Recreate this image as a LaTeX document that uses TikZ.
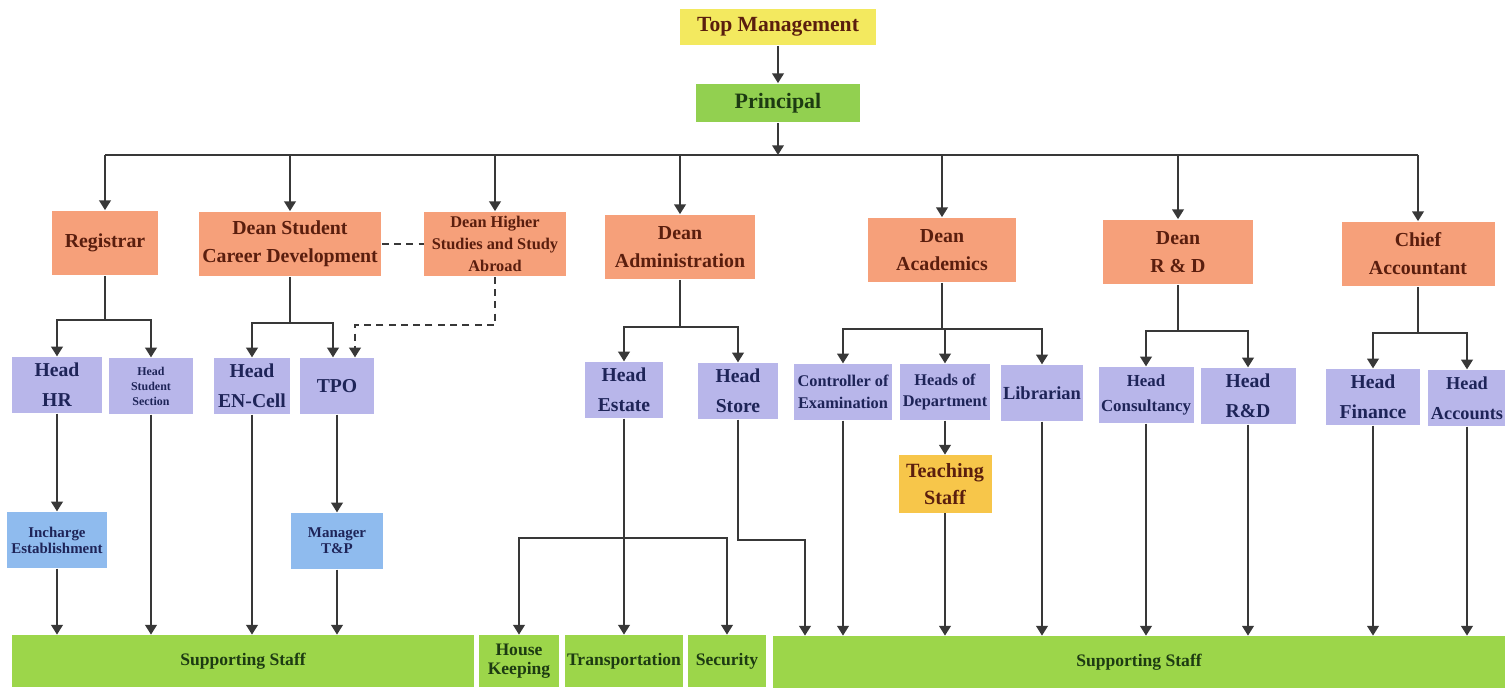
\documentclass[tikz,border=0pt]{standalone}
\usepackage{fontspec}
\setmainfont{Liberation Serif}
\usetikzlibrary{arrows.meta, positioning}

\definecolor{topyellow}{HTML}{F3E95F}
\definecolor{principalgreen}{HTML}{92D050}
\definecolor{deanorange}{HTML}{F6A07A}
\definecolor{headlav}{HTML}{B8B6EA}
\definecolor{inchargeblue}{HTML}{8FBBEE}
\definecolor{teachgold}{HTML}{F7C64A}
\definecolor{staffgreen}{HTML}{9CD64A}
\definecolor{browntext}{HTML}{5A1E0E}
\definecolor{navytext}{HTML}{1E2458}
\definecolor{greentext}{HTML}{1D3B12}
\definecolor{linegray}{HTML}{383838}

\tikzset{
  box/.style={inner sep=1pt, align=center},
  topbox/.style={box, fill=topyellow, text=browntext, minimum height=0.74cm, font=\bfseries\fontsize{12.3}{15}\selectfont},
  principalbox/.style={box, fill=principalgreen, text=greentext, minimum height=0.78cm, font=\bfseries\fontsize{12.5}{15}\selectfont},
  deanbox/.style={box, fill=deanorange, text=browntext, minimum height=1.3cm, font=\bfseries\fontsize{11.3}{16}\selectfont},
  headbox/.style={box, fill=headlav, text=navytext, minimum height=1.13cm, font=\bfseries\fontsize{11.2}{17}\selectfont},
  inchargebox/.style={box, fill=inchargeblue, text=navytext, minimum height=1.13cm, font=\bfseries\fontsize{8.5}{9}\selectfont},
  teachbox/.style={box, fill=teachgold, text=browntext, minimum height=1.16cm, font=\bfseries\fontsize{11.5}{15}\selectfont},
  staffbox/.style={box, fill=staffgreen, text=greentext, minimum height=1.04cm, font=\bfseries\fontsize{10}{10.5}\selectfont},
  smalltext/.style={font=\bfseries\fontsize{9.3}{12.5}\selectfont},
  link/.style={draw=linegray, line width=1.2pt, -{Triangle[length=5.5pt,width=6.5pt]}},
  busline/.style={draw=linegray, line width=1.2pt},
  dashlink/.style={link, dash pattern=on 4pt off 3pt},
}

\begin{document}
\begin{tikzpicture}[x=0.02cm, y=-0.02cm]
  \useasboundingbox (0,0) rectangle (1505,689);
  \clip (0,0) rectangle (1505,689);

  % Top of the chart
  \node[topbox, minimum width=3.94cm] (top) at (778,27) {Top Management};
  \node[principalbox, minimum width=3.3cm] (principal) at (778,103) {Principal};
  \coordinate (bus) at (778,155);

  % Deans
  \node[deanbox, minimum width=2.12cm] (registrar) at (105,243) {Registrar};
  \node[deanbox, minimum width=3.66cm] (dscd) at (290,244) {Dean Student\\Career Development};
  \node[deanbox, smalltext, minimum width=2.84cm] (dhs) at (495,244) {Dean Higher\\Studies and Study\\Abroad};
  \node[deanbox, minimum width=3.02cm] (dadmin) at (680,247) {Dean\\Administration};
  \node[deanbox, minimum width=2.98cm] (dacad) at (942,250) {Dean\\Academics};
  \node[deanbox, minimum width=3.02cm] (drd) at (1178,252) {Dean\\R \& D};
  \node[deanbox, minimum width=3.06cm] (chief) at (1418,254) {Chief\\Accountant};

  % Heads
  \node[headbox, minimum width=1.8cm] (headhr) at (57,385) {Head\\HR};
  \node[headbox, minimum width=1.68cm, font=\bfseries\fontsize{6.8}{8.5}\selectfont] (headss) at (151,386) {Head\\Student\\Section};
  \node[headbox, minimum width=1.52cm] (headen) at (252,386) {Head\\EN-Cell};
  \node[headbox, minimum width=1.5cm] (tpo) at (337,386) {TPO};
  \node[headbox, minimum width=1.58cm] (headestate) at (624,390) {Head\\Estate};
  \node[headbox, minimum width=1.62cm] (headstore) at (738,391) {Head\\Store};
  \node[headbox, smalltext, minimum width=1.96cm] (coe) at (843,392) {Controller of\\Examination};
  \node[headbox, smalltext, minimum width=1.8cm] (hod) at (945,392) {Heads of\\Department};
  \node[headbox, minimum width=1.62cm, font=\bfseries\fontsize{10.5}{12}\selectfont] (librarian) at (1042,393) {Librarian};
  \node[headbox, minimum width=1.9cm, font=\bfseries\fontsize{9.6}{14}\selectfont] (headcons) at (1146,395) {Head\\Consultancy};
  \node[headbox, minimum width=1.9cm] (headrd) at (1248,396) {Head\\R\&D};
  \node[headbox, minimum width=1.88cm] (headfin) at (1373,397) {Head\\Finance};
  \node[headbox, minimum width=1.56cm, font=\bfseries\fontsize{10.4}{17}\selectfont] (headacc) at (1467,398) {Head\\Accounts};

  % Third level
  \node[inchargebox, minimum width=2cm] (incharge) at (57,540) {Incharge\\Establishment};
  \node[inchargebox, minimum width=1.84cm] (manager) at (337,541) {Manager\\T\&P};
  \node[teachbox, minimum width=1.86cm] (teaching) at (945,484) {Teaching\\Staff};

  % Staff row
  \node[staffbox, minimum width=9.24cm] (ssleft) at (243,661) {Supporting Staff};
  \node[staffbox, minimum width=1.62cm] (housekeep) at (519,661) {House\\Keeping};
  \node[staffbox, minimum width=2.36cm] (transport) at (624,661) {Transportation};
  \node[staffbox, minimum width=1.56cm] (security) at (727,661) {Security};
  \node[staffbox, minimum width=14.66cm] (ssright) at (1139,662) {Supporting Staff};

  % Top connectors
  \draw[link] (top) -- (principal);
  \draw[link] (principal) -- (bus);
  \draw[busline] (registrar |- bus) -- (chief |- bus);
  \foreach \d in {registrar, dscd, dhs, dadmin, dacad, drd, chief}
    \draw[link] (\d |- bus) -- (\d);
  \draw[busline, dash pattern=on 4pt off 3pt] (dscd) -- (dhs);

  % Forks under the deans
  \coordinate (regfork) at (105,320);
  \draw[busline] (registrar) -- (regfork);
  \draw[link] (regfork) -| (headhr);
  \draw[link] (regfork) -| (headss);

  \coordinate (dscdfork) at (290,323);
  \draw[busline] (dscd) -- (dscdfork);
  \draw[link] (dscdfork) -| (headen);
  \draw[link] (dscdfork) -| ([xshift=-0.08cm]tpo.north);
  \coordinate (dhsbend) at (495,325);
  \draw[dashlink] (dhs) -- (dhsbend) -| ([xshift=0.36cm]tpo.north);

  \coordinate (adminfork) at (680,327);
  \draw[busline] (dadmin) -- (adminfork);
  \draw[link] (adminfork) -| (headestate);
  \draw[link] (adminfork) -| (headstore);

  \coordinate (acadfork) at (942,329);
  \draw[busline] (dacad) -- (acadfork);
  \draw[link] (acadfork) -| (coe);
  \draw[link] (acadfork) -| (hod);
  \draw[link] (acadfork) -| (librarian);

  \coordinate (rdfork) at (1178,331);
  \draw[busline] (drd) -- (rdfork);
  \draw[link] (rdfork) -| (headcons);
  \draw[link] (rdfork) -| (headrd);

  \coordinate (chieffork) at (1418,333);
  \draw[busline] (chief) -- (chieffork);
  \draw[link] (chieffork) -| (headfin);
  \draw[link] (chieffork) -| (headacc);

  % Down to the third level
  \draw[link] (headhr) -- (incharge);
  \draw[link] (tpo) -- (manager);
  \draw[link] (hod) -- (teaching);

  % Down to the staff row
  \foreach \n in {incharge, headss, headen, manager}
    \draw[link] (\n) -- (\n |- ssleft.north);
  \draw[link] (headestate) -- (transport);
  \coordinate (estatefork) at (624,538);
  \draw[link] (estatefork) -| (housekeep);
  \draw[link] (estatefork) -| (security);
  \coordinate (storebend) at (805,540);
  \draw[link] (headstore) |- (storebend) -- (storebend |- ssright.north);
  \foreach \n in {coe, teaching, librarian, headcons, headrd, headfin, headacc}
    \draw[link] (\n) -- (\n |- ssright.north);
\end{tikzpicture}
\end{document}
